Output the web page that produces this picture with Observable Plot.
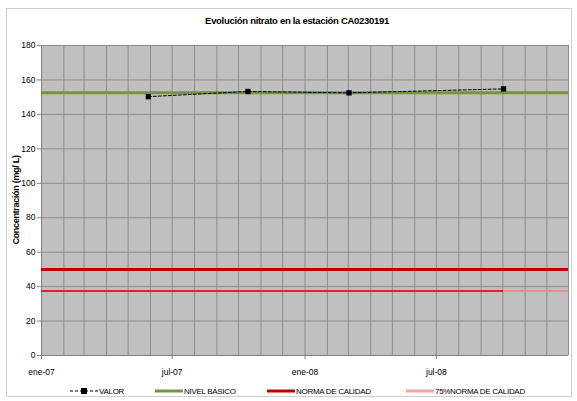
<!DOCTYPE html>
<html><head><meta charset="utf-8">
<script src="https://cdn.jsdelivr.net/npm/d3@7"></script>
<script src="https://cdn.jsdelivr.net/npm/@observablehq/plot@0.6"></script>
<style>
body{margin:0;background:#fff;font-family:"Liberation Sans",Arial,sans-serif;}
#wrap{position:relative;width:577px;height:401px;overflow:hidden;}
#border{position:absolute;left:6px;top:8px;width:566px;height:389px;border:1px solid #cfcfcf;box-sizing:border-box;}
#title{position:absolute;left:0;width:594px;top:15px;text-align:center;font-size:9.5px;font-weight:bold;letter-spacing:-0.3px;color:#000;}
#ylab{position:absolute;left:16px;top:200px;transform:translate(-50%,-50%) rotate(-90deg);white-space:nowrap;font-size:9px;font-weight:bold;letter-spacing:-0.3px;}
#chart{position:absolute;left:0;top:0;}
#legend{position:absolute;top:385px;left:0;width:577px;height:14px;font-size:8px;letter-spacing:-0.3px;color:#000;}
.li{position:absolute;display:flex;align-items:center;top:0;}
.li svg{margin-right:1px;}
</style></head><body>
<div id="wrap">
<div id="border"></div>
<div id="chart"></div>
<div id="title">Evolución nitrato en la estación CA0230191</div>
<div id="ylab">Concentración (mg/ L)</div>
<div id="legend"></div>
</div>
<script>
// Data
const valorDates = ["2007-05-29", "2007-10-14", "2008-03-02", "2008-10-02"];
const valorValues = [150.3, 153.3, 152.5, 154.8];
const nivelBasico = 152.5;
const normaCalidad = 50;
const norma75 = 37.5;
const xStart = "2007-01-01";
const xEnd = "2008-12-31";
const xTickDates = ["2007-01-01", "2007-07-01", "2008-01-01", "2008-07-01"];
const xTickLabels = ["ene-07", "jul-07", "ene-08", "jul-08"];
const yTicks = [0, 20, 40, 60, 80, 100, 120, 140, 160, 180];
const legendLabels = ["VALOR", "NIVEL BÁSICO", "NORMA DE CALIDAD", "75%NORMA DE CALIDAD"];

const parse = d3.utcParse("%Y-%m-%d");
const valor = valorDates.map((d, i) => ({date: parse(d), value: valorValues[i]}));
const x0 = parse(xStart), x1 = parse(xEnd);
const ticks = xTickDates.map(parse);
const months = d3.utcMonth.range(x0, x1);
const lastDate = valor[valor.length - 1].date;

const chart = Plot.plot({
  width: 577,
  height: 385,
  marginLeft: 41,
  marginRight: 9,
  marginTop: 45,
  marginBottom: 30,
  style: {fontFamily: "Liberation Sans, Arial, sans-serif", fontSize: "8.5px", background: "transparent", overflow: "visible"},
  x: {type: "utc", domain: [x0, x1]},
  y: {domain: [0, 180]},
  marks: [
    Plot.frame({fill: "#c0c0c0", stroke: "none"}),
    Plot.gridX(months, {stroke: "#8c8c8c", strokeOpacity: 1, strokeWidth: 1}),
    Plot.gridY(yTicks, {stroke: "#8c8c8c", strokeOpacity: 1, strokeWidth: 1}),
    Plot.ruleX([x1], {stroke: "#8c8c8c"}),
    Plot.axisY(yTicks, {tickSize: 4, tickPadding: 2, label: null, stroke: "#808080"}),
    Plot.axisX(ticks, {tickSize: 4, tickPadding: 9, label: null, stroke: "#808080",
      tickFormat: d => xTickLabels[ticks.findIndex(t => +t === +d)]}),
    Plot.ruleY([0], {stroke: "#808080"}),
    Plot.ruleX([x0], {stroke: "#808080"}),
    Plot.ruleY([norma75], {stroke: "#f08080", strokeWidth: 1.5}),
    Plot.ruleY([{y: norma75, a: x0, b: lastDate}], {y: "y", x1: "a", x2: "b", stroke: "#e00000", strokeWidth: 1.5}),
    Plot.ruleY([normaCalidad], {stroke: "#c00000", strokeWidth: 3}),
    Plot.ruleY([nivelBasico], {stroke: "#77933c", strokeWidth: 3}),
    Plot.line(valor, {x: "date", y: "value", stroke: "#000", strokeWidth: 1, strokeDasharray: "3,2"}),
    Plot.dot(valor, {x: "date", y: "value", symbol: "square", r: 3, fill: "#000", stroke: "none"})
  ]
});
document.getElementById("chart").appendChild(chart);

// Legend
const legendItems = [
  {label: legendLabels[0], left: 70, kind: "valor"},
  {label: legendLabels[1], left: 155, color: "#77933c", w: 3},
  {label: legendLabels[2], left: 267, color: "#c00000", w: 3},
  {label: legendLabels[3], left: 406, color: "#ffa0a0", w: 3}
];
const leg = document.getElementById("legend");
for (const it of legendItems) {
  const div = document.createElement("div");
  div.className = "li";
  div.style.left = it.left + "px";
  let svg;
  if (it.kind === "valor") {
    svg = `<svg width="28" height="12"><line x1="0" x2="28" y1="6" y2="6" stroke="#000" stroke-dasharray="3,2"/><rect x="11" y="3" width="6" height="6" fill="#000"/></svg>`;
  } else {
    svg = `<svg width="28" height="12"><line x1="0" x2="28" y1="6" y2="6" stroke="${it.color}" stroke-width="${it.w}"/></svg>`;
  }
  div.innerHTML = svg + `<span>${it.label}</span>`;
  leg.appendChild(div);
}
</script>
</body></html>
